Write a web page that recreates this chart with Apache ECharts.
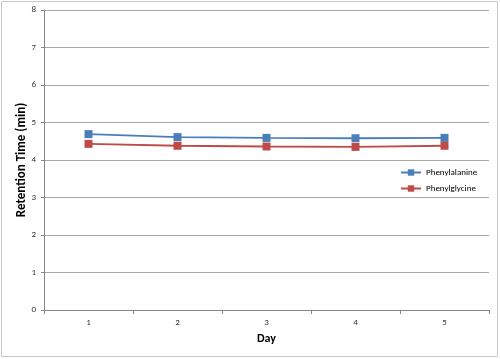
<!DOCTYPE html>
<html><head><meta charset="utf-8">
<script src="https://cdn.jsdelivr.net/npm/echarts@6/dist/echarts.min.js"></script>
<style>html,body{margin:0;padding:0;background:#fff}#c{width:500px;height:359px}</style>
</head><body><div id="c"></div>
<script>
const days = ['1','2','3','4','5'];
const phenylalanine = [4.69, 4.61, 4.59, 4.58, 4.59];
const phenylglycine = [4.43, 4.38, 4.36, 4.35, 4.38];
const yTicks = {min:0, max:8, interval:1};

const chart = echarts.init(document.getElementById('c'), null, {renderer:'canvas'});
const font = 'Calibri, Carlito, "Liberation Sans", Arial, sans-serif';
chart.setOption({
  animation:false,
  graphic:[{type:'rect', shape:{x:1.5,y:1.5,width:496,height:355}, style:{fill:null, stroke:'#c8c8c8', lineWidth:1}, silent:true}],
  grid:{left:44, right:11, top:10, bottom:49, containLabel:false},
  xAxis:{type:'category', data:days, boundaryGap:true,
    name:'Day', nameLocation:'middle', nameGap:23,
    nameTextStyle:{fontFamily:font, fontWeight:'bold', fontSize:12, color:'#000'},
    axisLine:{lineStyle:{color:'#868686'}},
    axisTick:{show:true, length:4, inside:false, lineStyle:{color:'#868686'}},
    axisLabel:{fontFamily:font, fontSize:9, color:'#333', margin:8},
    splitLine:{show:false}},
  yAxis:{type:'value', min:yTicks.min, max:yTicks.max, interval:yTicks.interval,
    name:'Retention Time (min)', nameLocation:'middle', nameGap:16, nameMoveOverlap:false,
    nameTextStyle:{fontFamily:font, fontWeight:'bold', fontSize:13, color:'#000'},
    axisLine:{show:true, lineStyle:{color:'#868686'}},
    axisTick:{show:true, length:3, lineStyle:{color:'#868686'}},
    axisLabel:{fontFamily:font, fontSize:9, color:'#333', margin:8},
    splitLine:{lineStyle:{color:'#a6a6a6', width:1}}},
  legend:{orient:'vertical', left:395, top:163, itemGap:7, itemWidth:20, itemHeight:8,
    textStyle:{fontFamily:font, fontSize:9, color:'#000'},
    data:['Phenylalanine','Phenylglycine']},
  series:[
    {name:'Phenylalanine', type:'line', data:phenylalanine, symbol:'rect', symbolSize:8,
     color:'#4a7ebb', lineStyle:{width:2, color:'#4a7ebb'}, itemStyle:{color:'#4a7ebb'}},
    {name:'Phenylglycine', type:'line', data:phenylglycine, symbol:'rect', symbolSize:8,
     color:'#be4b48', lineStyle:{width:2, color:'#be4b48'}, itemStyle:{color:'#be4b48'}}
  ]
});
</script></body></html>
